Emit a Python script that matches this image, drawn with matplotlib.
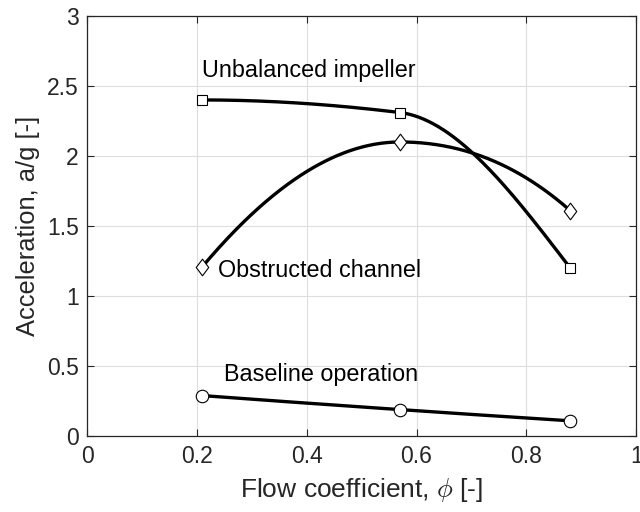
import numpy as np
import matplotlib
matplotlib.use("Agg")
import matplotlib.pyplot as plt
from matplotlib.path import Path

plt.rcParams['font.family'] = ['Liberation Sans', 'DejaVu Sans']
plt.rcParams['mathtext.fontset'] = 'cm'

flow = [0.21, 0.57, 0.88]
unbalanced = [2.40, 2.31, 1.20]
obstructed = [1.21, 2.10, 1.61]
baseline = [0.29, 0.19, 0.11]

labels = ["Unbalanced impeller", "Obstructed channel", "Baseline operation"]
label_pos = [(0.21, 2.61), (0.238, 1.18), (0.25, 0.44)]

x_ticks = [0, 0.2, 0.4, 0.6, 0.8, 1]
x_ticklabels = ["0", "0.2", "0.4", "0.6", "0.8", "1"]
y_ticks = [0, 0.5, 1, 1.5, 2, 2.5, 3]
y_ticklabels = ["0", "0.5", "1", "1.5", "2", "2.5", "3"]


def pchip(x, y, xs):
    x = np.asarray(x, float)
    y = np.asarray(y, float)
    h = np.diff(x)
    d = np.diff(y) / h
    n = len(x)
    m = np.zeros(n)
    for k in range(1, n - 1):
        if d[k - 1] * d[k] > 0:
            w1 = 2 * h[k] + h[k - 1]
            w2 = h[k] + 2 * h[k - 1]
            m[k] = (w1 + w2) / (w1 / d[k - 1] + w2 / d[k])

    def end(h0, h1, d0, d1):
        s = ((2 * h0 + h1) * d0 - h0 * d1) / (h0 + h1)
        if np.sign(s) != np.sign(d0):
            s = 0.0
        elif np.sign(d0) != np.sign(d1) and abs(s) > abs(3 * d0):
            s = 3 * d0
        return s
    m[0] = end(h[0], h[1], d[0], d[1])
    m[-1] = end(h[-1], h[-2], d[-1], d[-2])
    out = np.empty_like(xs)
    idx = np.clip(np.searchsorted(x, xs) - 1, 0, n - 2)
    for i, xv in enumerate(xs):
        k = idx[i]
        t = (xv - x[k]) / h[k]
        h00 = 2 * t**3 - 3 * t**2 + 1
        h10 = t**3 - 2 * t**2 + t
        h01 = -2 * t**3 + 3 * t**2
        h11 = t**3 - t**2
        out[i] = h00 * y[k] + h10 * h[k] * m[k] + h01 * y[k + 1] + h11 * h[k] * m[k + 1]
    return out


diamond = Path([(0, 1), (0.75, 0), (0, -1), (-0.75, 0), (0, 1)],
               [Path.MOVETO, Path.LINETO, Path.LINETO, Path.LINETO, Path.CLOSEPOLY])

fig = plt.figure(figsize=(6.4, 5.12), dpi=100)
ax = fig.add_axes([0.136, 0.148, 0.858, 0.821])

dark = '#262626'
series = [(unbalanced, 's', 7.5), (obstructed, diamond, 12), (baseline, 'o', 9)]
for vals, m, ms in series:
    xs = np.linspace(flow[0], flow[-1], 300)
    ax.plot(xs, pchip(flow, vals, xs), color='black', lw=2.4, zorder=3)
    ax.plot(flow, vals, marker=m, ms=ms, mfc='white', mec='black', mew=0.8,
            ls='none', zorder=4)

for (tx, ty), lab in zip(label_pos, labels):
    ax.text(tx, ty, lab, fontsize=16.8, va='center', ha='left', color='black')

ax.set_xlim(0, 1)
ax.set_ylim(0, 3)
ax.set_xticks(x_ticks)
ax.set_xticklabels(x_ticklabels)
ax.set_yticks(y_ticks)
ax.set_yticklabels(y_ticklabels)
ax.grid(True, color='#dedede', lw=0.8)
ax.set_axisbelow(True)
ax.tick_params(direction='in', top=True, right=True, labelsize=16.5, colors=dark,
               length=5, width=0.8, pad=6)
for s in ax.spines.values():
    s.set_color(dark)
    s.set_linewidth(0.9)
ax.set_xlabel(r"Flow coefficient, $\phi$ [-]", fontsize=19, color=dark, labelpad=6)
ax.set_ylabel("Acceleration, a/g [-]", fontsize=18.4, color=dark, labelpad=5)

fig.savefig("out.png", dpi=100)
